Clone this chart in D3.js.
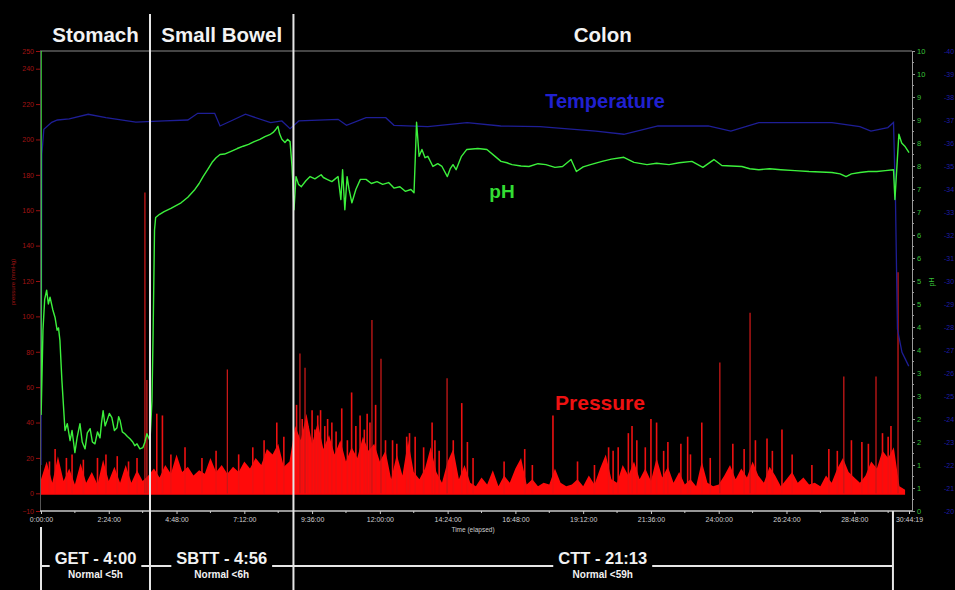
<!DOCTYPE html>
<html>
<head>
<meta charset="utf-8">
<script src="https://cdn.jsdelivr.net/npm/d3@7/dist/d3.min.js"></script>
<style>
  body { margin: 0; background: #000; }
  svg { display: block; }
  text { font-family: "Liberation Sans", Arial, sans-serif; }
</style>
</head>
<body>
<div id="chart"></div>
<script>
// Phases of the transit (hours elapsed)
var phaseNames = [ "Stomach", "Small Bowel", "Colon" ];
var phaseBounds = [ 0, 3.86, 8.94, 30.17 ];
var transitLabels = [ "GET - 4:00", "SBTT - 4:56", "CTT - 21:13" ];
var transitNotes = [ "Normal <5h", "Normal <6h", "Normal <59h" ];

// Axis ticks
var pressureTicks = [ -10, 0, 20, 40, 60, 80, 100, 120, 140, 160, 180, 200, 220, 240, 250 ];
var phTicks = [ 0, 0.5, 1, 1.5, 2, 2.5, 3, 3.5, 4, 4.5, 5, 5.5, 6, 6.5, 7, 7.5, 8, 8.5, 9, 9.5, 10 ];
var tempTicks = [ 20, 21, 22, 23, 24, 25, 26, 27, 28, 29, 30, 31, 32, 33, 34, 35, 36, 37, 38, 39, 40 ];
var timeTicks = [ 0, 2.4, 4.8, 7.2, 9.6, 12, 14.4, 16.8, 19.2, 21.6, 24, 26.4, 28.8, 30.7386 ];
var timeMinorTicks = [ 1.2, 3.6, 6, 8.4, 10.8, 13.2, 15.6, 18, 20.4, 22.8, 25.2, 27.6, 30 ];

// pH trace [hours, pH]
var phSeries = [
  [0, 10], [0.005, 2.1], [0.07, 3.93], [0.13, 4.6], [0.2, 4.8], [0.26, 4.5], [0.32, 4.65],
  [0.42, 4.37], [0.5, 4.2], [0.57, 3.93], [0.62, 3.98], [0.67, 3.71], [0.74, 2.84], [0.85, 1.75],
  [0.93, 1.9], [1.03, 1.53], [1.1, 1.75], [1.2, 1.27], [1.28, 1.6], [1.38, 1.9], [1.46, 1.5],
  [1.56, 1.35], [1.64, 1.7], [1.74, 1.79], [1.82, 1.5], [1.91, 1.46], [2.0, 1.72], [2.09, 1.59],
  [2.14, 1.9], [2.2, 2.18], [2.27, 1.85], [2.34, 1.97], [2.42, 2.12], [2.51, 2.03], [2.6, 1.75],
  [2.69, 1.81], [2.75, 2.05], [2.8, 1.97], [2.88, 1.72], [2.97, 1.68], [3.06, 1.62], [3.15, 1.57],
  [3.25, 1.5], [3.32, 1.42], [3.4, 1.46], [3.5, 1.35], [3.61, 1.38], [3.68, 1.5], [3.75, 1.68],
  [3.86, 1.53], [3.93, 2.4], [3.97, 3.86], [4.02, 6.11], [4.06, 6.38], [4.2, 6.45], [4.36, 6.51],
  [4.6, 6.58], [4.96, 6.7], [5.2, 6.82], [5.45, 6.99], [5.6, 7.12], [5.74, 7.27], [5.9, 7.42],
  [6.06, 7.58], [6.2, 7.68], [6.34, 7.75], [6.5, 7.76], [6.73, 7.82], [6.95, 7.88], [7.16, 7.93],
  [7.35, 7.97], [7.55, 8.03], [7.75, 8.08], [7.93, 8.14], [8.1, 8.18], [8.22, 8.23], [8.32, 8.3],
  [8.39, 8.36], [8.45, 8.2], [8.53, 8.08], [8.64, 8.01], [8.73, 8.08], [8.82, 8.03], [8.89, 7.49],
  [8.96, 6.55], [9.03, 7.27], [9.12, 7.1], [9.22, 7.05], [9.38, 7.18], [9.53, 7.27], [9.7, 7.22],
  [9.92, 7.31], [10.0, 7.25], [10.13, 7.21], [10.3, 7.16], [10.42, 7.22], [10.52, 7.27],
  [10.62, 6.77], [10.68, 7.42], [10.76, 6.55], [10.84, 7.27], [10.91, 6.99], [11.01, 6.7],
  [11.15, 6.99], [11.31, 7.21], [11.51, 7.21], [11.7, 7.12], [11.9, 7.16], [12.1, 7.1],
  [12.31, 7.14], [12.5, 7.02], [12.71, 7.05], [12.9, 6.95], [13.1, 6.99], [13.21, 6.92],
  [13.3, 8.45], [13.39, 7.71], [13.49, 7.86], [13.6, 7.68], [13.7, 7.71], [13.88, 7.49],
  [14.05, 7.55], [14.2, 7.49], [14.39, 7.27], [14.5, 7.45], [14.59, 7.53], [14.7, 7.42],
  [14.89, 7.71], [15.08, 7.86], [15.47, 7.88], [15.79, 7.86], [16.08, 7.71], [16.29, 7.6],
  [16.5, 7.57], [16.68, 7.53], [17.0, 7.5], [17.28, 7.49], [17.6, 7.55], [17.88, 7.53],
  [18.2, 7.47], [18.47, 7.49], [18.77, 7.64], [18.96, 7.38], [19.2, 7.48], [19.46, 7.53],
  [19.87, 7.6], [20.2, 7.65], [20.64, 7.69], [21.0, 7.58], [21.46, 7.53], [21.8, 7.56],
  [22.24, 7.53], [22.6, 7.57], [23.05, 7.6], [23.44, 7.47], [23.83, 7.64], [24.11, 7.51],
  [24.45, 7.5], [24.82, 7.49], [25.1, 7.44], [25.42, 7.42], [25.8, 7.44], [26.2, 7.42],
  [26.7, 7.4], [27.2, 7.38], [27.6, 7.37], [28.01, 7.36], [28.3, 7.33], [28.51, 7.27],
  [28.7, 7.33], [29.0, 7.36], [29.3, 7.38], [29.6, 7.38], [29.9, 7.4], [30.19, 7.42],
  [30.24, 6.77], [30.38, 8.19], [30.48, 8.0], [30.59, 7.93], [30.74, 7.79]
];

// Temperature trace [hours, deg C]
var tempSeries = [
  [0, 22], [0.03, 35.5], [0.1, 36.6], [0.38, 36.9], [0.58, 37.0], [1.0, 37.05], [1.67, 37.25],
  [2.3, 37.1], [3.36, 36.91], [4.36, 36.96], [5.2, 37.0], [5.55, 37.29], [6.15, 37.29],
  [6.34, 36.74], [6.8, 37.0], [7.24, 37.25], [8.13, 36.89], [8.53, 36.96], [8.82, 36.62],
  [9.13, 36.96], [10.52, 37.03], [10.82, 36.77], [11.51, 37.1], [12.21, 37.1], [12.5, 36.77],
  [13.7, 36.71], [15.09, 36.89], [16.28, 36.74], [17.67, 36.71], [19.65, 36.52], [20.64, 36.38],
  [21.85, 36.74], [23.63, 36.74], [24.43, 36.52], [25.42, 36.89], [28.01, 36.89], [29.0, 36.71],
  [29.39, 36.52], [29.99, 36.67], [30.19, 36.89], [30.26, 33.5], [30.33, 27.9], [30.49, 26.9],
  [30.73, 26.3]
];

// Pressure body (mmHg), one reading every pressureStep hours
var pressureStep = 0.2;
var pressureBody = [
  8, 18, 6, 21, 7, 14, 5, 17, 6, 12,
  5, 19, 7, 15, 6, 16, 6, 13, 7, 10,
  14, 9, 16, 11, 22, 12, 15, 10, 13, 11,
  20, 12, 16, 11, 15, 12, 18, 14, 20, 16,
  25, 22, 28, 15, 18, 38, 30, 45, 28, 40,
  25, 33, 22, 30, 18, 26, 20, 32, 24, 28,
  18, 24, 8, 22, 10, 30, 12, 8, 14, 26,
  12, 6, 18, 25, 8, 16, 6, 4, 9, 5,
  13, 4, 10, 6, 14, 20, 5, 8, 4, 6,
  5, 14, 6, 4, 5, 8, 4, 10, 5, 14,
  22, 8, 6, 16, 10, 18, 8, 14, 7, 20,
  9, 15, 6, 12, 5, 8, 4, 18, 6, 4,
  5, 10, 16, 8, 14, 9, 18, 10, 6, 15,
  10, 4, 8, 12, 6, 9, 5, 6, 4, 10,
  6, 14, 20, 12, 9, 6, 10, 18, 14, 24,
  20, 26, 4, 2
];

// Pressure contraction peaks [hours, mmHg]
var pressurePeaks = [
  [0.3, 18], [0.5, 25], [0.9, 20], [1.1, 22], [1.5, 19], [2.0, 20], [2.3, 22], [2.7, 21],
  [3.1, 18], [3.4, 20], [3.68, 170], [3.75, 64], [4.1, 45], [4.3, 44], [4.6, 22], [5.1, 26],
  [5.7, 20], [6.2, 24], [6.6, 70], [7.0, 22], [7.5, 26], [7.9, 30], [8.35, 40], [8.6, 32],
  [9.05, 50], [9.17, 79], [9.25, 42], [9.35, 71], [9.45, 38], [9.6, 47], [9.7, 36], [9.8, 44],
  [9.9, 47], [10.05, 38], [10.15, 42], [10.3, 40], [10.45, 35], [10.65, 48], [10.85, 30],
  [11.0, 57], [11.15, 38], [11.3, 44], [11.45, 36], [11.55, 45], [11.65, 40], [11.72, 98],
  [11.85, 50], [12.04, 76], [12.2, 30], [12.45, 30], [12.6, 28], [12.95, 32], [13.05, 34],
  [13.25, 32], [13.55, 26], [13.85, 40], [13.95, 30], [14.1, 24], [14.38, 65], [14.6, 30],
  [14.9, 51], [15.1, 29], [15.3, 20], [16.4, 18], [17.13, 25], [17.4, 16], [18.13, 44],
  [19.0, 18], [19.6, 16], [20.1, 26], [20.26, 24], [20.44, 26], [20.8, 34], [20.93, 38],
  [21.1, 30], [21.4, 26], [21.6, 42], [21.8, 40], [22.05, 24], [22.2, 29], [22.66, 28],
  [22.9, 32], [23.0, 22], [23.4, 40], [23.7, 20], [24.04, 74], [24.5, 28], [24.9, 25],
  [25.11, 102], [25.3, 30], [25.71, 31], [25.9, 24], [26.24, 36], [26.6, 22], [27.3, 16],
  [27.9, 25], [28.2, 24], [28.43, 66], [28.7, 30], [29.07, 29], [29.3, 28], [29.57, 66],
  [29.8, 34], [30.0, 32], [30.1, 38], [30.35, 125]
];

var width = 955, height = 590;
var plot = { left: 41, right: 909, top: 51, bottom: 511, frameRight: 912 };

var formatTime = function( h ) {
  var s = Math.round( h * 3600 );
  var mm = Math.floor( ( s % 3600 ) / 60 ), ss = s % 60;
  return Math.floor( s / 3600 ) + ":" + ( mm < 10 ? "0" : "" ) + mm + ":" + ( ss < 10 ? "0" : "" ) + ss;
};

// Scales
var x = d3.scaleLinear().domain( [ 0, 30.7386 ] ).range( [ plot.left, plot.right ] );
var yPressure = d3.scaleLinear().domain( [ -10, 250 ] ).range( [ plot.bottom, plot.top ] );
var yPh = d3.scaleLinear().domain( [ 0, 10 ] ).range( [ plot.bottom, plot.top ] );
var yTemp = d3.scaleLinear().domain( [ 20, 40 ] ).range( [ plot.bottom, plot.top ] );

// Setup SVG element
var svg = d3.select( "#chart" ).append( "svg" )
  .attr( "width", width )
  .attr( "height", height )
  .style( "background", "#000" );

// Frame
svg.append( "line" )
  .attr( "x1", 40 ).attr( "x2", plot.frameRight )
  .attr( "y1", plot.top ).attr( "y2", plot.top )
  .attr( "stroke", "#8a8a8a" ).attr( "stroke-width", 1.2 );

// Pressure area
var pressureData = pressureBody.map( function( v, i ) { return [ i * pressureStep, v ]; } );
svg.append( "path" )
  .datum( pressureData )
  .attr( "fill", "#ff0a0a" )
  .attr( "d", d3.area()
    .x( function( d ) { return x( d[0] ); } )
    .y0( yPressure( 0 ) + 1.5 )
    .y1( function( d ) { return yPressure( d[1] ); } ) );

svg.append( "g" ).selectAll( "line" )
  .data( pressurePeaks )
  .join( "line" )
  .attr( "x1", function( d ) { return x( d[0] ); } )
  .attr( "x2", function( d ) { return x( d[0] ); } )
  .attr( "y1", yPressure( 0 ) )
  .attr( "y2", function( d ) { return yPressure( d[1] ); } )
  .attr( "stroke", function( d ) { return d[1] > 60 ? "#c81818" : "#ee1111"; } )
  .attr( "stroke-width", function( d ) { return d[1] > 60 ? 1.3 : 1.6; } );

// Temperature line
svg.append( "path" )
  .datum( tempSeries )
  .attr( "fill", "none" )
  .attr( "stroke", "#1e1e96" )
  .attr( "stroke-width", 1.3 )
  .attr( "d", d3.line()
    .x( function( d ) { return x( d[0] ); } )
    .y( function( d ) { return yTemp( d[1] ); } ) );

// pH line
svg.append( "path" )
  .datum( phSeries )
  .attr( "fill", "none" )
  .attr( "stroke", "#3cf03c" )
  .attr( "stroke-width", 1.4 )
  .attr( "stroke-linejoin", "round" )
  .attr( "d", d3.line()
    .x( function( d ) { return x( d[0] ); } )
    .y( function( d ) { return yPh( d[1] ); } ) );

// Left pressure axis
var leftAxis = svg.append( "g" )
  .attr( "transform", "translate(40,0)" )
  .call( d3.axisLeft( yPressure ).tickValues( pressureTicks ).tickSize( 4 ).tickPadding( 2 ) );
leftAxis.select( ".domain" ).attr( "stroke", "#555" );
leftAxis.selectAll( ".tick line" ).attr( "stroke", "#9a1010" );
leftAxis.selectAll( "text" ).attr( "fill", "#a01414" ).style( "font-size", "7px" );

svg.append( "text" )
  .attr( "transform", "translate(15,282) rotate(-90)" )
  .attr( "text-anchor", "middle" )
  .attr( "fill", "#a01414" )
  .style( "font-size", "6px" )
  .text( "pressure (mmHg)" );

// Right pH axis
var rightAxis = svg.append( "g" )
  .attr( "transform", "translate(" + plot.frameRight + ",0)" )
  .call( d3.axisRight( yPh ).tickValues( phTicks ).tickSize( 3 ).tickPadding( 2 ) );
rightAxis.select( ".domain" ).attr( "stroke", "#9a9a9a" );
rightAxis.selectAll( ".tick line" ).attr( "stroke", "#9a9a9a" );
rightAxis.selectAll( "text" ).attr( "fill", "#38c038" ).style( "font-size", "7.5px" );

svg.append( "g" ).selectAll( "line" )
  .data( phTicks.slice( 1 ) )
  .join( "line" )
  .attr( "x1", plot.frameRight ).attr( "x2", plot.frameRight + 2 )
  .attr( "y1", function( d ) { return yPh( d - 0.25 ); } )
  .attr( "y2", function( d ) { return yPh( d - 0.25 ); } )
  .attr( "stroke", "#9a9a9a" );

svg.append( "text" )
  .attr( "transform", "translate(934,282) rotate(-90)" )
  .attr( "text-anchor", "middle" )
  .attr( "fill", "#38c038" )
  .style( "font-size", "7px" )
  .text( "pH" );

// Temperature labels
svg.append( "g" ).selectAll( "text" )
  .data( tempTicks )
  .join( "text" )
  .attr( "x", 944 )
  .attr( "y", function( d ) { return yTemp( d ) + 2.5; } )
  .attr( "fill", "#1c1ca8" )
  .style( "font-size", "7px" )
  .text( function( d ) { return "-" + d; } );

// Bottom time axis
var bottomAxis = svg.append( "g" )
  .attr( "transform", "translate(0," + plot.bottom + ")" )
  .call( d3.axisBottom( x ).tickValues( timeTicks ).tickFormat( formatTime ).tickSize( 3 ).tickPadding( 3 ) );
bottomAxis.select( ".domain" ).remove();
bottomAxis.selectAll( ".tick line" ).attr( "stroke", "#ccc" );
bottomAxis.selectAll( "text" ).attr( "fill", "#cfcfcf" ).style( "font-size", "7px" );

svg.append( "line" )
  .attr( "x1", 40 ).attr( "x2", plot.frameRight )
  .attr( "y1", plot.bottom ).attr( "y2", plot.bottom )
  .attr( "stroke", "#c8c8c8" ).attr( "stroke-width", 1.3 );

svg.append( "g" ).selectAll( "line" )
  .data( timeMinorTicks )
  .join( "line" )
  .attr( "x1", function( d ) { return x( d ); } )
  .attr( "x2", function( d ) { return x( d ); } )
  .attr( "y1", plot.bottom ).attr( "y2", plot.bottom + 2 )
  .attr( "stroke", "#ccc" );

svg.append( "text" )
  .attr( "x", 473 ).attr( "y", 532 )
  .attr( "text-anchor", "middle" )
  .attr( "fill", "#cfcfcf" )
  .style( "font-size", "6.5px" )
  .text( "Time (elapsed)" );

// Series labels
svg.append( "text" )
  .attr( "x", 605 ).attr( "y", 108 )
  .attr( "text-anchor", "middle" )
  .attr( "fill", "#2020d0" )
  .style( "font-size", "20px" ).style( "font-weight", "bold" )
  .text( "Temperature" );

svg.append( "text" )
  .attr( "x", 502 ).attr( "y", 198 )
  .attr( "text-anchor", "middle" )
  .attr( "fill", "#33dd33" )
  .style( "font-size", "19px" ).style( "font-weight", "bold" )
  .text( "pH" );

svg.append( "text" )
  .attr( "x", 600 ).attr( "y", 410 )
  .attr( "text-anchor", "middle" )
  .attr( "fill", "#ee1111" )
  .style( "font-size", "21px" ).style( "font-weight", "bold" )
  .text( "Pressure" );

// Phase headers and boundaries
var phaseEnds = [ phaseBounds[1], phaseBounds[2], 30.7386 ];
svg.append( "g" ).selectAll( "text" )
  .data( phaseNames )
  .join( "text" )
  .attr( "x", function( d, i ) { return ( x( phaseBounds[i] ) + ( i === 2 ? plot.frameRight : x( phaseEnds[i] ) ) ) / 2; } )
  .attr( "y", 42 )
  .attr( "text-anchor", "middle" )
  .attr( "fill", "#f2f2f2" )
  .style( "font-size", "20.5px" ).style( "font-weight", "bold" )
  .text( function( d ) { return d; } );

svg.append( "g" ).selectAll( "line" )
  .data( [ phaseBounds[1], phaseBounds[2] ] )
  .join( "line" )
  .attr( "x1", function( d ) { return x( d ); } )
  .attr( "x2", function( d ) { return x( d ); } )
  .attr( "y1", 14 ).attr( "y2", height )
  .attr( "stroke", "#e6e6e6" ).attr( "stroke-width", 2 );

svg.append( "line" )
  .attr( "x1", x( phaseBounds[0] ) ).attr( "x2", x( phaseBounds[0] ) )
  .attr( "y1", 527 ).attr( "y2", height )
  .attr( "stroke", "#e6e6e6" ).attr( "stroke-width", 2 );

svg.append( "line" )
  .attr( "x1", x( phaseBounds[3] ) ).attr( "x2", x( phaseBounds[3] ) )
  .attr( "y1", plot.bottom ).attr( "y2", height )
  .attr( "stroke", "#e6e6e6" ).attr( "stroke-width", 2 );

// Transit time annotations
svg.append( "line" )
  .attr( "x1", x( phaseBounds[0] ) ).attr( "x2", x( phaseBounds[3] ) )
  .attr( "y1", 566 ).attr( "y2", 566 )
  .attr( "stroke", "#e6e6e6" ).attr( "stroke-width", 2 );

var transit = svg.append( "g" ).selectAll( "g" )
  .data( transitLabels )
  .join( "g" )
  .attr( "transform", function( d, i ) {
    var cx = ( x( phaseBounds[i] ) + ( i === 2 ? plot.frameRight : x( phaseBounds[i + 1] ) ) ) / 2;
    return "translate(" + cx + ",0)";
  } );

transit.append( "rect" )
  .attr( "fill", "#000" )
  .attr( "y", 548 ).attr( "height", 32 );

transit.append( "text" )
  .attr( "class", "transitLabel" )
  .attr( "y", 564 )
  .attr( "text-anchor", "middle" )
  .attr( "fill", "#f2f2f2" )
  .style( "font-size", "16.5px" ).style( "font-weight", "bold" )
  .text( function( d ) { return d; } );

transit.append( "text" )
  .attr( "y", 578 )
  .attr( "text-anchor", "middle" )
  .attr( "fill", "#f2f2f2" )
  .style( "font-size", "10px" ).style( "font-weight", "bold" )
  .text( function( d, i ) { return transitNotes[i]; } );

transit.each( function() {
  var g = d3.select( this );
  var w = g.select( ".transitLabel" ).node().getBBox().width + 10;
  g.select( "rect" ).attr( "x", -w / 2 ).attr( "width", w );
} );
</script>
</body>
</html>
